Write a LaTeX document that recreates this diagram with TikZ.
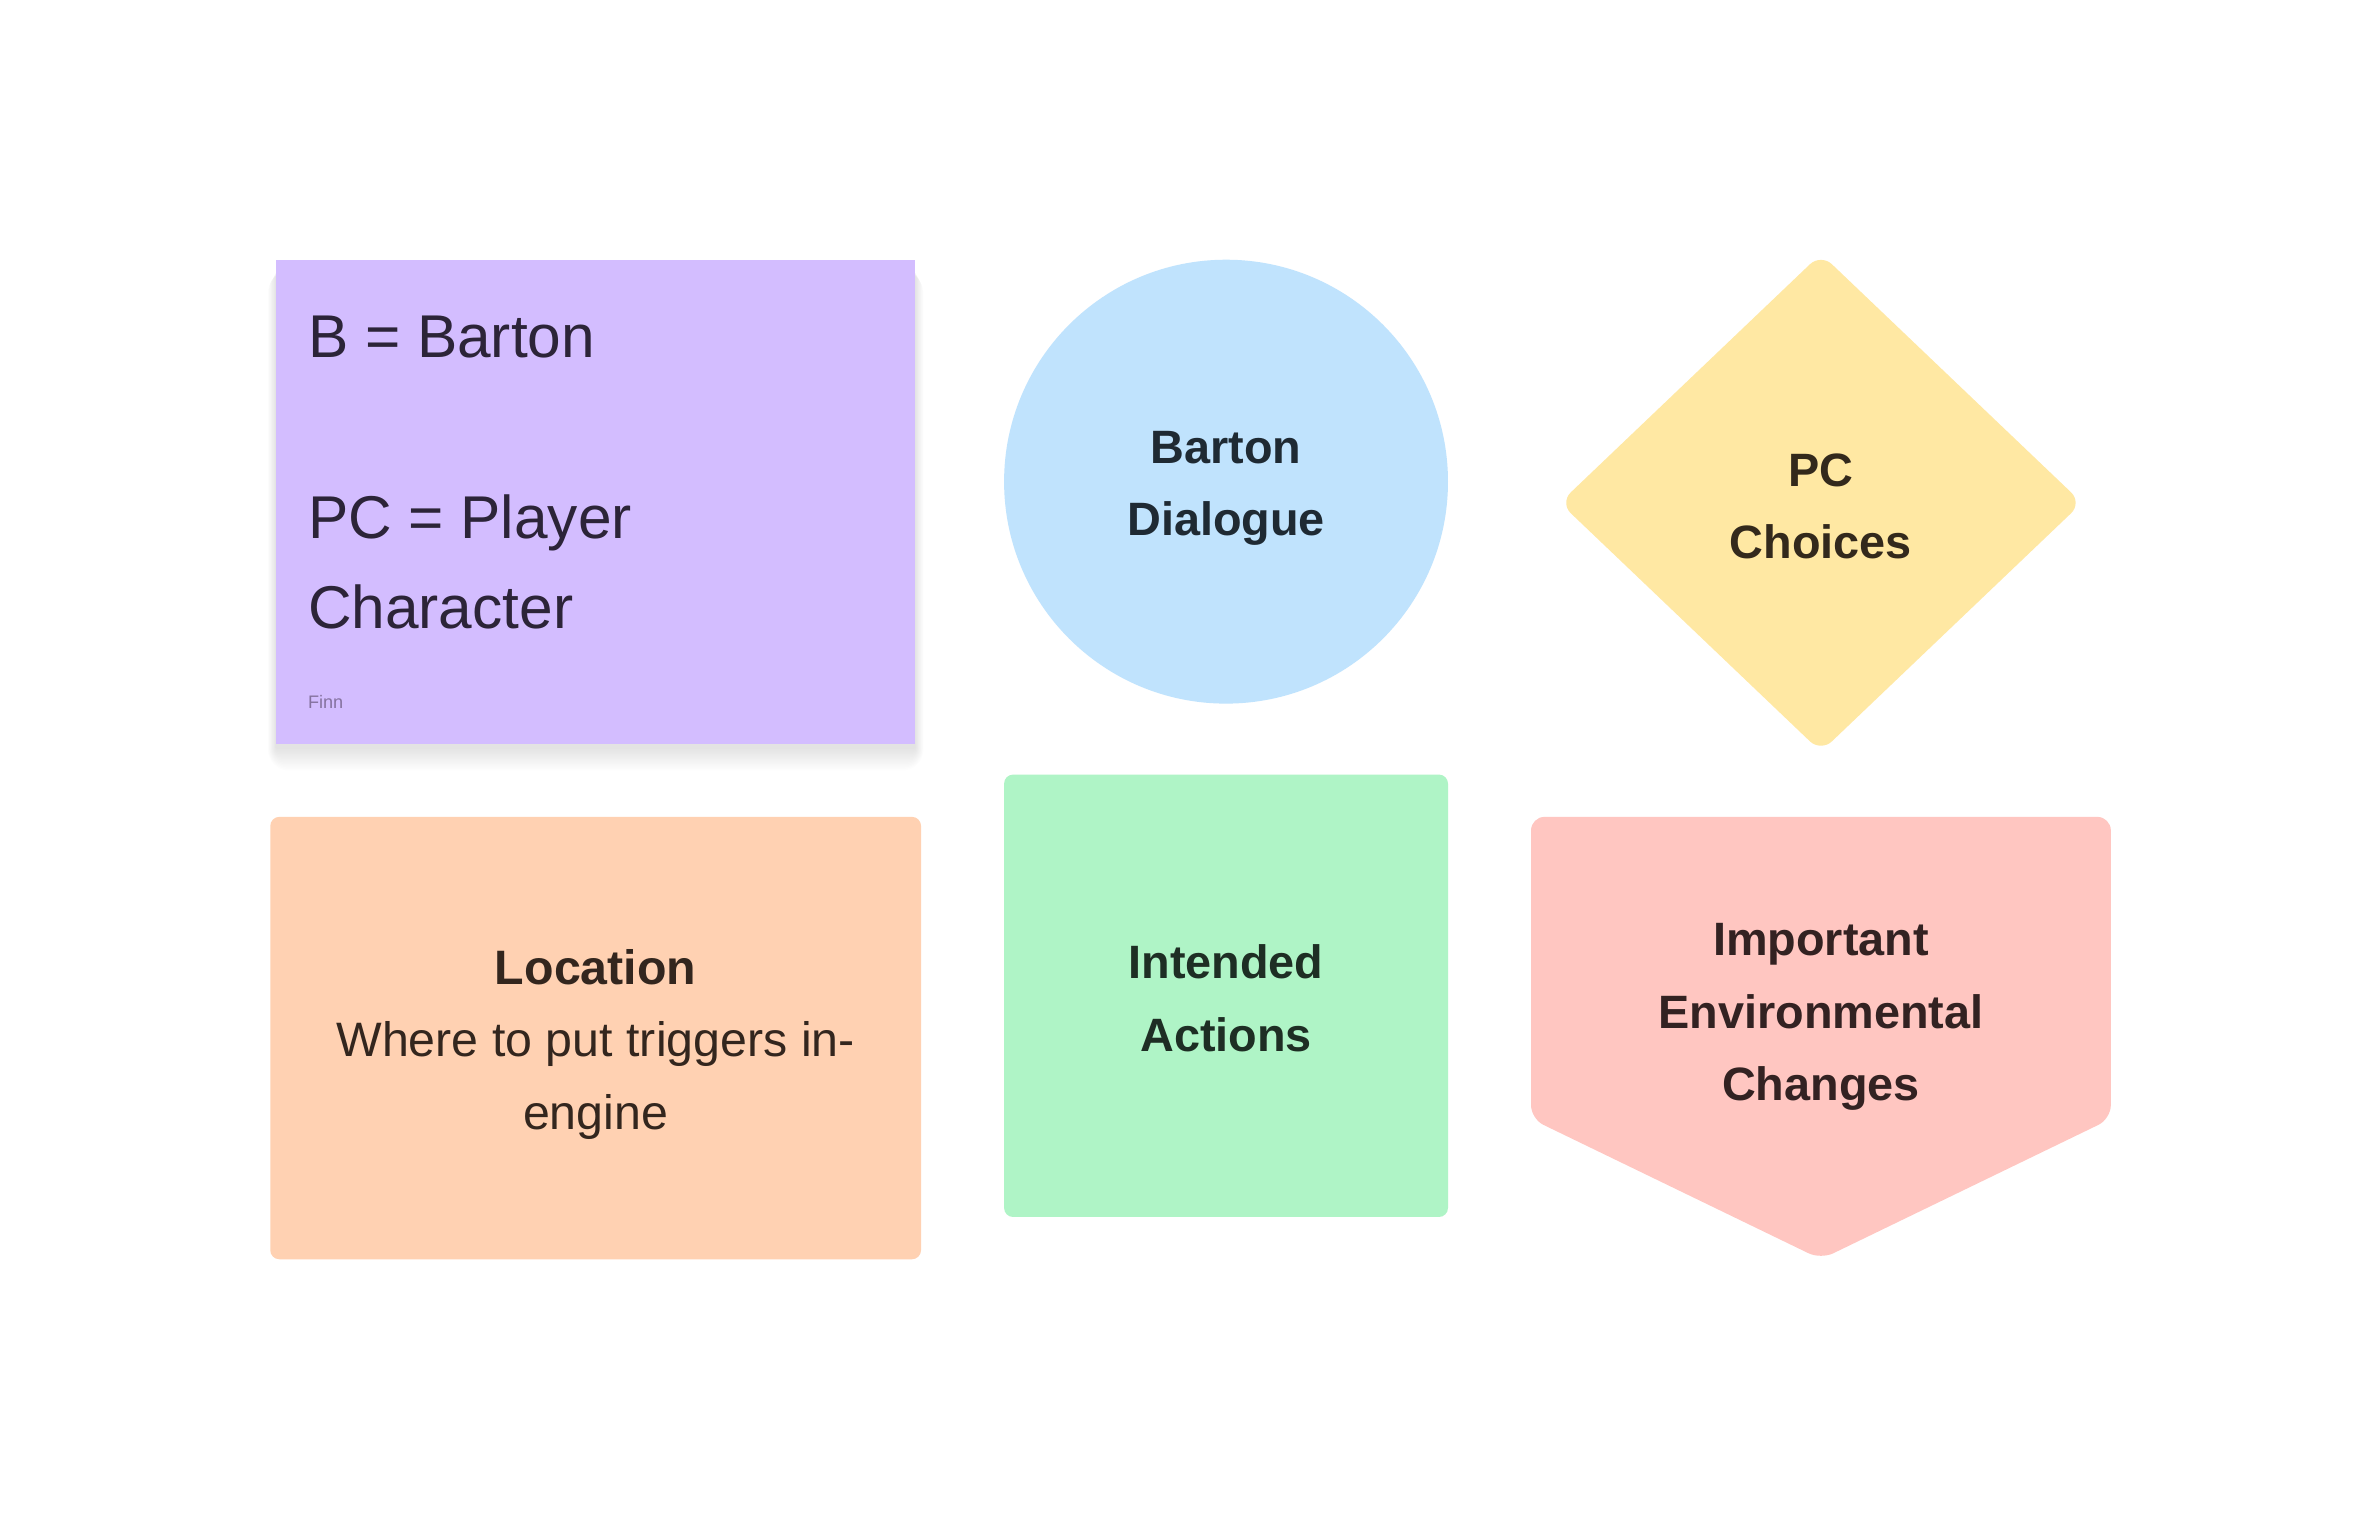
\documentclass[tikz,border=0pt]{standalone}
\usepackage{fontspec}
\setmainfont{Liberation Sans}
\usepackage{tikz}
\usetikzlibrary{shapes.geometric}

\definecolor{noteViolet}{HTML}{D3BDFF}
\definecolor{noteVioletInk}{HTML}{2C2438}
\definecolor{noteVioletSub}{HTML}{85729F}
\definecolor{shapeBlue}{HTML}{C0E3FD}
\definecolor{shapeBlueInk}{HTML}{1F2A33}
\definecolor{shapeYellow}{HTML}{FFE8A3}
\definecolor{shapeYellowInk}{HTML}{33291C}
\definecolor{shapeOrange}{HTML}{FFD1B2}
\definecolor{shapeOrangeInk}{HTML}{33261E}
\definecolor{shapeGreen}{HTML}{AFF4C6}
\definecolor{shapeGreenInk}{HTML}{1E2E24}
\definecolor{shapePink}{HTML}{FFC6C1}
\definecolor{shapePinkInk}{HTML}{332222}

\tikzset{
    boldlabel/.style={align=center, font=\bfseries\fontsize{31}{48}\selectfont},
    plainlabel/.style={align=center, font=\fontsize{32}{48}\selectfont}
}

\begin{document}
\begin{tikzpicture}[x=1pt, y=-1pt]
    \useasboundingbox [fill=white] (0,0) rectangle (1567,1004);
    % soft shadow under the sticky note
    \foreach \s in {1,...,14}
        \fill [black, opacity=0.008, rounded corners=\s pt] %
            (183-\s*0.4,172+8) rectangle (606+\s*0.4,493+2+\s*1.1);
    % sticky note
    \node (note) [fill=noteViolet, minimum width=423, minimum height=321, %
        inner sep=0] at (394.5,332.5) {};
    \node (notetext) [anchor=north west, inner sep=0, align=left, text=noteVioletInk, %
        font=\fontsize{40}{60}\selectfont] at ([shift={(21,37)}]note.north west) %
        {B = Barton\\[60pt]PC = Player\\Character};
    \node (author) [anchor=base west, inner sep=0, text=noteVioletSub, %
        font=\fontsize{12}{14}\selectfont] at ([shift={(21,-24)}]note.south west) {Finn};
    % top row
    \node (dialogue) [circle, fill=shapeBlue, minimum size=294, text=shapeBlueInk] %
        at (812,319) {};
    \node (dialoguetext) [text=shapeBlueInk, boldlabel] at (812,323.5) {Barton\\Dialogue};
    \node (choices) [diamond, fill=shapeYellow, minimum width=346, minimum height=330, %
        rounded corners=10pt] at (1206,333) {};
    \node (choicestext) [text=shapeYellowInk, boldlabel] at (1206,335.5) {PC\\Choices};
    % bottom row
    \node (location) [fill=shapeOrange, rounded corners=6pt, minimum width=431, %
        minimum height=293] at (394.5,687.5) {};
    \node (locationtext) [text=shapeOrangeInk, plainlabel] at (394.5,691.5) %
        {\textbf{Location}\\Where to put triggers in-\\engine};
    \node (actions) [fill=shapeGreen, rounded corners=6pt, minimum width=294, %
        minimum height=293] at (812,659.5) {};
    \node (actionstext) [text=shapeGreenInk, boldlabel] at (812,661) {Intended\\Actions};
    \fill [shapePink, rounded corners=9pt] (1014,541) -- (1398,541) -- (1398,741) %
        -- (1206,834) -- (1014,741) -- cycle;
    \node (changes) [text=shapePinkInk, boldlabel] at (1206,673.5) %
        {Important\\Environmental\\Changes};
\end{tikzpicture}
\end{document}
